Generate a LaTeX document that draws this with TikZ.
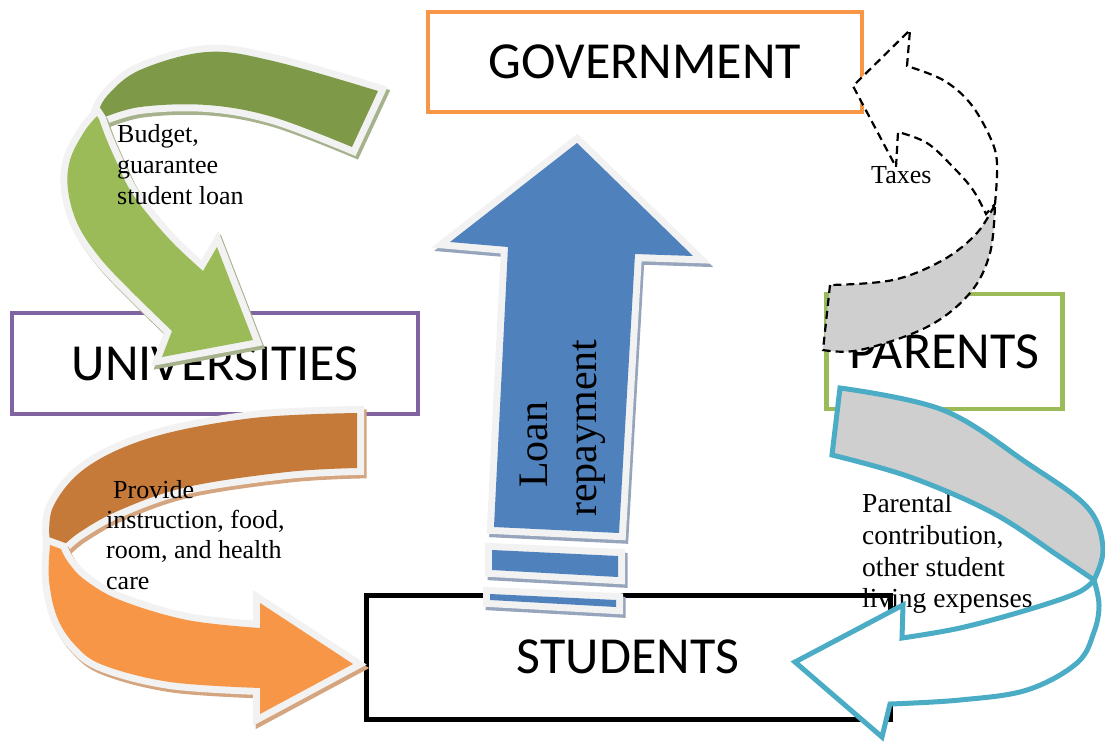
\documentclass[tikz,border=0pt]{standalone}
\usepackage{fontspec}
\setmainfont{Liberation Serif}
\newfontfamily\boxfont{Carlito}

\definecolor{rimwhite}{HTML}{F2F2F2}
\definecolor{govorange}{HTML}{F79646}
\definecolor{unipurple}{HTML}{8064A2}
\definecolor{pargreen}{HTML}{9BBB59}
\definecolor{greendark}{RGB}{126,153,72}
\definecolor{greenlight}{HTML}{9BBB59}
\definecolor{greenshade}{RGB}{165,178,140}
\definecolor{orangedark}{RGB}{198,122,57}
\definecolor{orangelight}{HTML}{F79646}
\definecolor{orangeshade}{RGB}{212,165,126}
\definecolor{loanblue}{HTML}{4F81BD}
\definecolor{blueshade}{RGB}{150,165,188}
\definecolor{flowteal}{HTML}{4BACC6}
\definecolor{flowgray}{RGB}{207,207,207}

% A ribbon piece: soft shadow, light rim, then the coloured body
\newcommand\ribbon[3]{%
  \path[draw=#2,fill=#2,line width=14pt,line join=miter,shift={(2.5,3.5)}] #3;
  \path[draw=rimwhite,fill=rimwhite,line width=14pt,line join=miter] #3;
  \path[fill=#1] #3;
}

\begin{document}
\begin{tikzpicture}[x=1pt,y=-1pt,
  box/.style={draw,line width=4.5pt,inner sep=0pt,
    font=\boxfont\fontsize{52}{62}\selectfont},
  lbl/.style={anchor=base west,inner sep=0pt,font=\fontsize{26}{31}\selectfont},
  plbl/.style={anchor=base west,inner sep=0pt,font=\fontsize{27.5}{32}\selectfont},
  vlbl/.style={anchor=base west,inner sep=0pt,rotate=90,font=\fontsize{42}{50}\selectfont}]

\useasboundingbox (0,0) rectangle (1105,742);

% text of the parents-to-students flow
\node[plbl] (par1) at (862,512) {Parental};
\node[plbl] (par2) at (862,544) {contribution,};
\node[plbl] (par3) at (862,576) {other student};
\node[plbl] (par4) at (862,607) {living expenses};

% the four actors
\node[box,draw=govorange,minimum width=434pt,minimum height=100pt] (gov) at (645,62) {GOVERNMENT};
\node[box,draw=unipurple,minimum width=406pt,minimum height=101pt] (uni) at (215,363.5) {UNIVERSITIES};
\node[box,draw=pargreen,minimum width=236pt,minimum height=115pt] (par) at (944.5,351.5) {PARENTS};
\node[box,draw=black,line width=5pt,minimum width=524pt,minimum height=124pt] (stu) at (628,657) {STUDENTS};

% taxes: parents -> government (dashed outline)
\path[draw=black,fill=flowgray,line width=2.2pt,dash pattern=on 8pt off 5pt]
  (830,285) -- (823,350)
  -- plot[smooth,tension=.6] coordinates {(823,350) (860,350) (927,327) (970,293) (990,253) (995,204)}
  -- plot[smooth,tension=.6] coordinates {(995,204) (977,233) (943,260) (893,280) (830,285)} -- cycle;
\path[draw=black,fill=white,line width=2.2pt,dash pattern=on 8pt off 5pt]
  plot[smooth,tension=.6] coordinates {(995,204) (997,163) (990,137) (970,103) (943,80) (907,66)}
  -- (910,30) -- (853,86) -- (896,167)
  -- plot[smooth,tension=.6] coordinates {(898,132) (927,143) (953,167) (973,190) (986,214)} -- cycle;

% parental contribution: parents -> students
\path[draw=flowteal,fill=flowgray,line width=5pt,line join=miter]
  (840,388) -- (832,455)
  -- plot[smooth,tension=.6] coordinates {(832,455) (910,477) (993,513) (1060,557) (1094,580)}
  -- plot[smooth,tension=.6] coordinates {(1094,580) (1103,548) (1087,507) (1027,463) (943,410) (840,388)} -- cycle;
\path[draw=flowteal,fill=white,line width=5pt,line join=miter]
  plot[smooth,tension=.6] coordinates {(1094,580) (1099,605) (1094,632) (1077,663) (1027,690) (960,700) (890,704)}
  -- (882,737) -- (795,662) -- (903,605)
  -- plot[smooth,tension=.6] coordinates {(902,638) (960,628) (1027,610) (1077,593) (1094,580)} -- cycle;

% budget: government -> universities
\ribbon{greendark}{greenshade}{(378,91) -- (352,147)
  -- plot[smooth,tension=.6] coordinates {(352,147) (273,117) (207,105) (140,107) (100,119)}
  -- plot[smooth,tension=.6] coordinates {(97,116) (107,96) (140,70) (207,52) (273,61) (378,91)} -- cycle}
\ribbon{greenlight}{greenshade}{plot[smooth,tension=.6] coordinates {(97,116) (84,132) (70,160) (68,190) (78,225) (100,258) (130,290) (172,331)}
  -- (162,357) -- (253,340) -- (217,247)
  -- plot[smooth,tension=.6] coordinates {(203,271) (175,245) (150,217) (130,190) (117,163) (106,138) (99,119)} -- cycle}

% services: universities -> students
\ribbon{orangedark}{orangeshade}{(357,413) -- (357,468)
  -- plot[smooth,tension=.6] coordinates {(357,468) (287,472) (187,487) (120,510) (80,532) (61,548)}
  -- plot[smooth,tension=.6] coordinates {(50,544) (53,507) (87,467) (153,437) (253,418) (357,413)} -- cycle}
\ribbon{orangelight}{orangeshade}{plot[smooth,tension=.6] coordinates {(50,545) (49,580) (57,617) (75,645) (103,665) (170,682) (260,688)}
  -- (260,714) -- (353,664) -- (260,603)
  -- plot[smooth,tension=.6] coordinates {(260,628) (187,620) (120,600) (85,580) (68,562) (61,549)} -- cycle}

% loan repayment: students -> government
\ribbon{loanblue}{blueshade}{(577,143) -- (693,256) -- (635,254) -- (619,533) -- (494,527) -- (508,247) -- (450,242) -- cycle}
\ribbon{loanblue}{blueshade}{(492,550) -- (618,556) -- (618,577) -- (492,570) -- cycle}
\ribbon{loanblue}{blueshade}{(490,594) -- (616,600) -- (616,607) -- (490,600) -- cycle}

% flow labels
\node[lbl] (bud1) at (117,142) {Budget,};
\node[lbl] (bud2) at (117,173) {guarantee};
\node[lbl] (bud3) at (117,204) {student loan};

\node[lbl] (pro1) at (113,498) {Provide};
\node[lbl] (pro2) at (106,528) {instruction, food,};
\node[lbl] (pro3) at (106,558) {room, and health};
\node[lbl] (pro4) at (106,589) {care};

\node[lbl] (tax) at (871,183) {Taxes};

\node[vlbl] (loan1) at (547,488) {Loan};
\node[vlbl] (loan2) at (596,517) {repayment};

\end{tikzpicture}
\end{document}
